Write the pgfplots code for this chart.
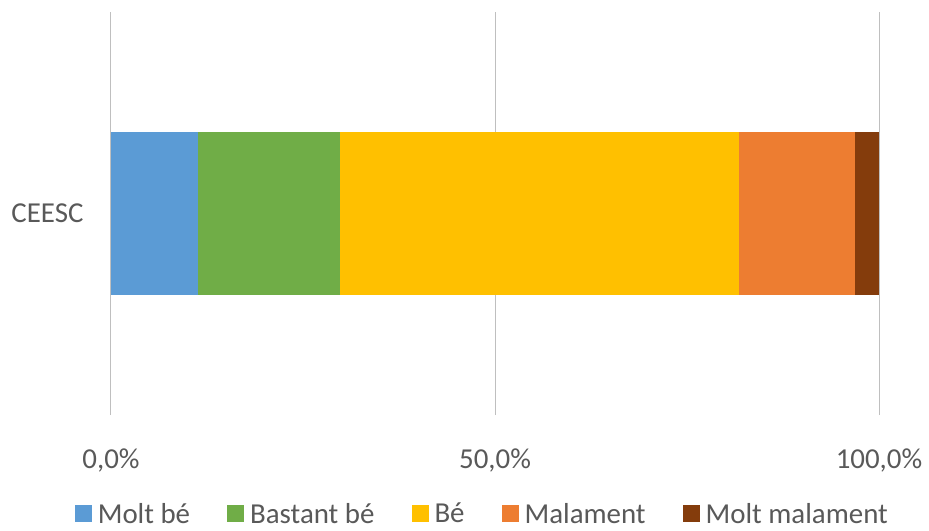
\documentclass[border=0pt]{standalone}
\usepackage{pgfplots}
\pgfplotsset{compat=1.18}
\usepackage{fontspec}
\setmainfont{Carlito}
\definecolor{cblue}{HTML}{5B9BD5}
\definecolor{cgreen}{HTML}{70AD47}
\definecolor{cyellow}{HTML}{FFC000}
\definecolor{corange}{HTML}{ED7D31}
\definecolor{cbrown}{HTML}{843C0C}
\definecolor{txt}{HTML}{595959}
\definecolor{grid}{HTML}{D9D9D9}
\begin{document}
\begin{tikzpicture}
\path[use as bounding box] (-111bp,-116bp) rectangle (818bp,415bp);
\begin{axis}[
  at={(0,0)}, anchor=south west,
  scale only axis,
  width=768bp, height=403bp,
  xbar stacked,
  bar width=163bp,
  xmin=0, xmax=100,
  ymin=0, ymax=2,
  ytick={1}, yticklabels={CEESC},
  xtick={0,50,100},
  xticklabels={{0,0\%},{50,0\%},{100,0\%}},
  axis line style={draw=none},
  major tick length=0pt,
  xmajorgrids,
  grid style={grid, line width=1bp},
  tick label style={font=\fontsize{29}{34}\selectfont, text=txt},
  xticklabel style={yshift=-30bp},
  yticklabel style={xshift=-24bp},
  legend columns=5,
  legend style={draw=none, at={(0.4835,-0.245)}, anchor=center,
    inner sep=1bp,
    font=\fontsize{29}{34}\selectfont, text=txt,
    nodes={inner sep=2bp},
    /tikz/every even column/.append style={column sep=35bp},
    /tikz/every odd column/.append style={column sep=4bp}},
  legend image code/.code={\fill[#1] (0bp,-8.5bp) rectangle (17bp,8.5bp);},
]
\addplot[fill=cblue, draw=none] coordinates {(11.3,1)};
\addplot[fill=cgreen, draw=none] coordinates {(18.5,1)};
\addplot[fill=cyellow, draw=none] coordinates {(52.0,1)};
\addplot[fill=corange, draw=none] coordinates {(15.1,1)};
\addplot[fill=cbrown, draw=none] coordinates {(3.1,1)};
\legend{Molt bé, Bastant bé, Bé, Malament, Molt malament}
\end{axis}
\end{tikzpicture}
\end{document}
